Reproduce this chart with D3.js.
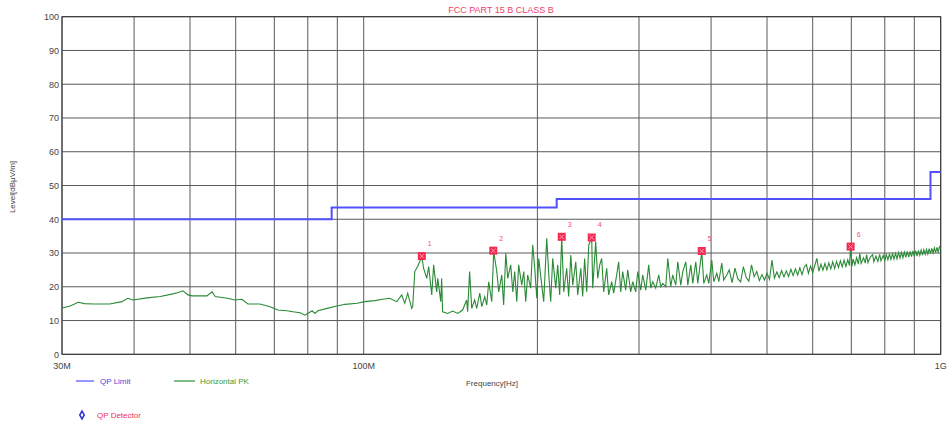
<!DOCTYPE html>
<html>
<head>
<meta charset="utf-8">
<script src="https://cdn.jsdelivr.net/npm/d3@7.9.0/dist/d3.min.js"></script>
<style>
  body { margin: 0; background: #fff; }
  svg { display: block; font-family: "Liberation Sans", Arial, sans-serif; }
</style>
</head>
<body>
<svg width="949" height="423"></svg>
<script>
// ---- data (frequencies in MHz, levels in dBuV/m) ----
const yTicks = [0, 10, 20, 30, 40, 50, 60, 70, 80, 90, 100];
const xGridTicks = [30, 40, 50, 60, 70, 80, 90, 100, 200, 300, 400, 500, 600, 700, 800, 900, 1000];
const xLabelValues = [30, 100, 1000];
const xLabelText = ['30M', '100M', '1G'];

// QP limit (step after each frequency)
const limitFreq = [30, 88, 216, 960, 1000];
const limitLevel = [40, 43.5, 46, 54, 54];

// Horizontal PK trace
const traceFreq = [
  30.0, 31.0, 32.0, 32.8, 34.0, 36.3, 38.1, 39.0, 39.8, 42.1, 44.4, 46.7, 47.7, 48.6, 49.6, 50.4,
  53.5, 54.6, 55.3, 58.0, 59.8, 61.5, 63.0, 66.1, 68.8, 71.0, 73.6, 75.4, 77.6, 79.1, 80.0, 81.4,
  82.3, 83.3, 86.4, 89.9, 92.8, 97.4, 100.4, 104.5, 107.9, 110.9, 114.1, 116.4, 117.8, 119.2, 121.1, 121.6,
  122.6, 124.0, 126.1, 127.0, 128.6, 129.6, 131.2, 132.2, 133.8, 134.4, 136.0, 136.5, 137.0, 139.8, 142.6, 145.5,
  148.4, 150.8, 151.4, 152.6, 153.9, 155.7, 157.0, 158.9, 160.2, 162.1, 163.4, 164.7, 166.7, 168.0, 170.1, 171.4,
  173.5, 174.8, 176.3, 177.7, 179.8, 181.3, 182.7, 184.2, 185.6, 187.9, 189.4, 190.9, 192.4, 194.7, 196.3, 197.9,
  199.5, 201.1, 203.5, 205.1, 207.6, 209.3, 210.9, 212.6, 215.2, 216.9, 218.6, 220.4, 222.2, 224.8, 226.6, 228.5,
  230.3, 233.1, 234.9, 237.8, 239.6, 241.5, 243.5, 245.5, 248.4, 249.4, 252.4, 254.4, 256.5, 258.5, 260.6, 263.7,
  265.8, 269.0, 271.2, 274.4, 276.6, 278.9, 281.1, 284.5, 286.8, 290.2, 292.6, 296.1, 298.5, 302.1, 304.5, 308.2,
  311.9, 314.4, 316.9, 320.7, 324.6, 327.2, 329.8, 333.8, 336.5, 340.5, 343.2, 347.4, 350.2, 354.4, 357.3, 361.6,
  364.5, 368.9, 371.8, 376.3, 379.3, 385.4, 388.5, 393.1, 396.3, 401.1, 404.3, 409.2, 412.5, 417.4, 420.7, 425.8,
  430, 435, 440, 445, 450, 455, 460, 465, 470, 475, 480, 485, 490, 495, 500, 505,
  510, 515, 520, 525, 530, 535, 540, 545, 550, 555, 560, 565, 570, 575, 580, 585,
  590, 595, 600, 605, 610, 615, 620, 625, 630, 635, 640, 645, 650, 655, 660, 665,
  670, 675, 680, 685, 690, 695, 698, 702, 705, 710, 715, 720, 724, 728, 735, 740,
  744, 748, 755, 762, 766, 772, 778, 784, 788, 795, 800, 805, 810, 815, 820, 825,
  830, 835, 840, 845, 850, 855, 860, 865, 870, 875, 880, 885, 890, 895, 900, 905,
  910, 915, 920, 925, 930, 935, 940, 945, 950, 955, 960, 965, 970, 975, 980, 985,
  990, 995, 1000
];
const traceLevel = [
  13.7, 14.3, 15.4, 15.0, 14.9, 14.9, 15.6, 16.6, 16.1, 16.7, 17.1, 17.9, 18.3, 18.8, 17.6, 17.3,
  17.3, 18.5, 17.1, 16.6, 16.1, 16.3, 14.9, 14.9, 14.1, 13.1, 12.9, 12.6, 12.3, 11.6, 12.1, 12.9,
  12.1, 12.9, 13.6, 14.3, 14.8, 15.1, 15.6, 15.9, 16.3, 16.6, 15.6, 17.6, 15.1, 18.1, 13.6, 14.1,
  24.5, 26.0, 28.9, 25.5, 22.5, 26.0, 17.6, 26.5, 18.5, 22.5, 15.6, 22.5, 12.6, 12.1, 12.8, 12.1,
  13.1, 16.1, 12.6, 24.5, 13.6, 16.1, 13.6, 18.1, 14.1, 17.1, 14.6, 21.5, 15.6, 30.4, 24.5, 18.5,
  23.5, 14.6, 29.9, 22.5, 26.5, 18.5, 24.5, 15.6, 26.5, 20.5, 24.5, 15.6, 23.5, 19.6, 32.4, 25.5,
  16.6, 28.4, 20.5, 15.6, 34.4, 23.5, 15.6, 28.4, 19.6, 26.5, 17.6, 34.6, 18.5, 25.5, 17.1, 29.4,
  20.5, 27.4, 17.6, 25.5, 17.1, 28.4, 18.5, 32.4, 34.4, 19.6, 33.4, 22.5, 26.5, 28.4, 18.5, 25.5,
  17.6, 21.5, 18.1, 23.5, 27.4, 18.5, 24.5, 19.0, 25.0, 18.5, 21.5, 18.5, 24.5, 19.0, 23.5, 19.0,
  26.5, 19.6, 21.5, 19.6, 23.5, 20.0, 21.0, 20.0, 28.4, 20.0, 23.5, 20.5, 27.4, 20.5, 24.5, 27.4,
  20.5, 26.5, 21.0, 27.4, 21.0, 30.4, 21.0, 23.5, 21.0, 27.9, 21.5, 24.0, 21.5, 27.0, 22.0, 23.5,
  25.0, 21.2, 25.5, 22.4, 21.4, 26.0, 22.8, 21.6, 26.5, 23.0, 24.5, 21.8, 23.6, 22.0, 24.0, 22.2,
  27.9, 22.6, 24.4, 22.7, 24.8, 23.0, 24.7, 23.0, 25.2, 23.3, 25.3, 23.5, 25.6, 23.6, 25.8, 26.6,
  24.0, 26.1, 24.2, 26.3, 28.4, 24.6, 26.7, 24.9, 26.9, 25.0, 27.1, 25.3, 27.4, 25.4, 27.5, 25.7,
  27.7, 25.9, 27.9, 26.0, 28.0, 26.3, 31.9, 26.1, 28.2, 26.5, 28.6, 26.7, 29.9, 26.9, 28.6, 27.0,
  29.5, 27.1, 28.8, 29.5, 27.4, 29.1, 27.5, 29.6, 27.7, 29.3, 27.8, 29.5, 28.0, 29.7, 28.1, 29.8,
  28.2, 29.9, 28.3, 30.1, 28.5, 30.2, 28.6, 30.3, 28.7, 30.5, 28.8, 30.5, 28.9, 30.6, 29.0, 30.7,
  29.1, 30.8, 29.3, 30.9, 29.4, 31.0, 29.6, 31.1, 29.7, 31.3, 29.8, 31.4, 30.0, 31.5, 30.1, 31.7,
  30.3, 31.8, 31.2
];

// QP detector markers
const markerFreq = [126.1, 167.7, 220.4, 248.4, 385.4, 698];
const markerLevel = [29.1, 30.7, 34.8, 34.6, 30.6, 31.9];
const markerLabel = ['1', '2', '3', '4', '5', '6'];

// ---- layout ----
const svg = d3.select('svg');
const plotL = 62, plotR = 940.7, plotT = 16.7, plotB = 354.3;

const x = d3.scaleLog().domain([30, 1000]).range([plotL, plotR]);
const y = d3.scaleLinear().domain([0, 100]).range([plotB, plotT]);

// title
svg.append('text')
  .attr('x', 501).attr('y', 13)
  .attr('text-anchor', 'middle')
  .attr('font-size', 9).attr('fill', '#f0406a')
  .text('FCC PART 15 B CLASS B');

// grid
svg.append('g').selectAll('line').data(xGridTicks).join('line')
  .attr('x1', d => x(d)).attr('x2', d => x(d))
  .attr('y1', plotT).attr('y2', plotB)
  .attr('stroke', '#5a5a5a').attr('stroke-width', 1);

svg.append('g').selectAll('line').data(yTicks).join('line')
  .attr('x1', plotL).attr('x2', plotR)
  .attr('y1', d => y(d)).attr('y2', d => y(d))
  .attr('stroke', '#5a5a5a').attr('stroke-width', 1);

// frame
svg.append('rect')
  .attr('x', plotL).attr('y', plotT)
  .attr('width', plotR - plotL).attr('height', plotB - plotT)
  .attr('fill', 'none').attr('stroke', '#333').attr('stroke-width', 1);

// y axis labels
let yAxis = svg.append('g')
  .attr('transform', `translate(${plotL},0)`)
  .call(d3.axisLeft(y).tickValues(yTicks).tickSize(0).tickPadding(3));
yAxis.select('.domain').remove();
yAxis.selectAll('text').attr('font-size', 9).attr('fill', '#444')
  .attr('font-family', '"Liberation Sans", Arial, sans-serif');

// x axis labels
svg.append('g').selectAll('text').data(xLabelValues).join('text')
  .attr('x', d => x(d)).attr('y', 369)
  .attr('text-anchor', 'middle')
  .attr('font-size', 9).attr('fill', '#444')
  .text((d, i) => xLabelText[i]);

// axis titles
svg.append('text')
  .attr('transform', 'translate(15,187) rotate(-90)')
  .attr('text-anchor', 'middle')
  .attr('font-size', 8).attr('fill', '#444')
  .text('Level[dBμV/m]');

svg.append('text')
  .attr('x', 492).attr('y', 386)
  .attr('text-anchor', 'middle')
  .attr('font-size', 8).attr('fill', '#444')
  .text('Frequency[Hz]');

// limit line
let limitData = limitFreq.map((f, i) => ({ f: f, v: limitLevel[i] }));
svg.append('path')
  .attr('d', d3.line().x(d => x(d.f)).y(d => y(d.v)).curve(d3.curveStepAfter)(limitData))
  .attr('fill', 'none').attr('stroke', '#5050ff').attr('stroke-width', 2);

// PK trace
let traceData = traceFreq.map((f, i) => ({ f: f, v: traceLevel[i] }));
svg.append('path')
  .attr('d', d3.line().x(d => x(d.f)).y(d => y(d.v))(traceData))
  .attr('fill', 'none').attr('stroke', '#2a8a36').attr('stroke-width', 1.1);

// QP markers
markerFreq.forEach((f, i) => {
  let mx = x(f), my = y(markerLevel[i]);
  let g = svg.append('g');
  g.append('rect')
    .attr('x', mx - 4).attr('y', my - 4)
    .attr('width', 8).attr('height', 8)
    .attr('fill', '#f52a50');
  g.append('path')
    .attr('d', `M${mx - 2.2},${my - 2.2}L${mx + 2.2},${my + 2.2}M${mx + 2.2},${my - 2.2}L${mx - 2.2},${my + 2.2}`)
    .attr('stroke', '#ffb0c0').attr('stroke-width', 0.8);
  g.append('text')
    .attr('x', mx + 8).attr('y', my - 10)
    .attr('text-anchor', 'middle')
    .attr('font-size', 7).attr('fill', '#f05070')
    .text(markerLabel[i]);
});

// legend
let legend = svg.append('g');
legend.append('line').attr('x1', 76).attr('x2', 94).attr('y1', 381).attr('y2', 381)
  .attr('stroke', '#5050ff').attr('stroke-width', 1.2);
legend.append('text').attr('x', 100).attr('y', 384)
  .attr('font-size', 8).attr('fill', '#4a4ae0').text('QP Limit');
legend.append('line').attr('x1', 174).attr('x2', 195).attr('y1', 381).attr('y2', 381)
  .attr('stroke', '#2f8f3a').attr('stroke-width', 1.2);
legend.append('text').attr('x', 200).attr('y', 384)
  .attr('font-size', 8).attr('fill', '#3a9a3a').text('Horizontal PK');
legend.append('path')
  .attr('d', d3.symbol().type(d3.symbolDiamond).size(18)())
  .attr('transform', 'translate(82,415)')
  .attr('fill', 'none').attr('stroke', '#3030d0').attr('stroke-width', 1.5);
legend.append('text').attr('x', 97).attr('y', 418)
  .attr('font-size', 8).attr('fill', '#f03050').text('QP Detector');
</script>
</body>
</html>
